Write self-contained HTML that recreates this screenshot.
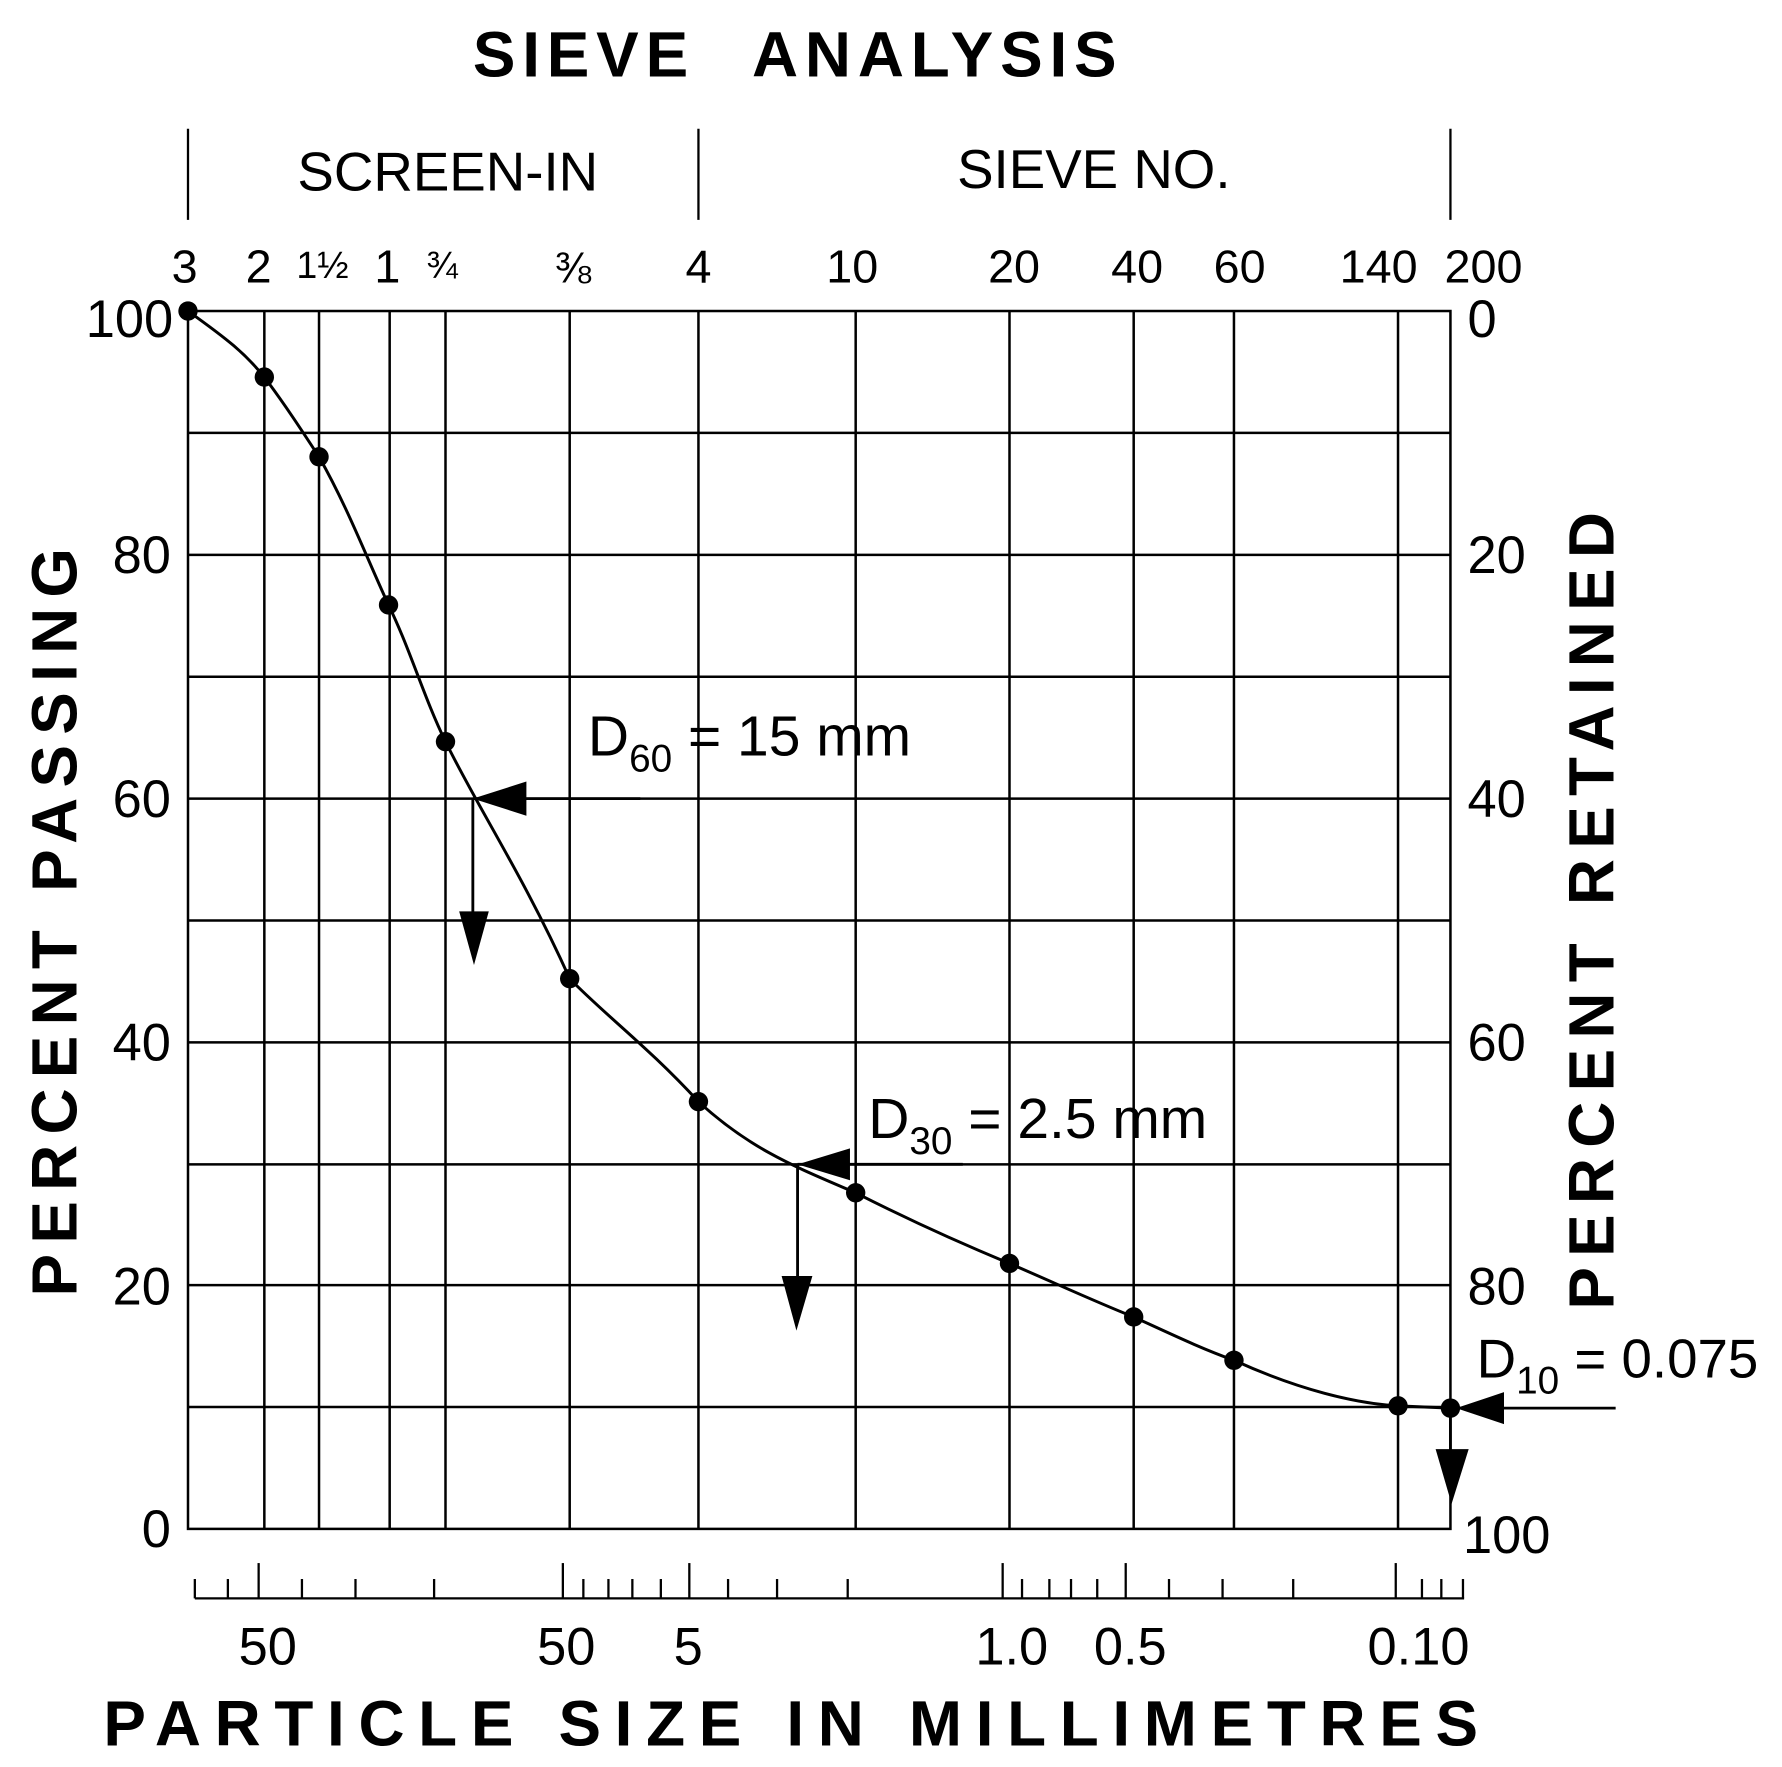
<!DOCTYPE html>
<html><head><meta charset="utf-8"><style>
html,body{margin:0;padding:0;background:#fff;}
svg{display:block;}
text{font-family:"Liberation Sans",Arial,sans-serif;fill:#000;}
</style></head><body>
<svg width="1782" height="1767" viewBox="0 0 1564 1551" preserveAspectRatio="none" xmlns="http://www.w3.org/2000/svg">
<text x="415" y="67" font-size="56" font-weight="bold" letter-spacing="6">SIEVE</text>
<text x="660" y="67" font-size="56" font-weight="bold" letter-spacing="6">ANALYSIS</text>
<g stroke="#000" stroke-width="2">
<line x1="165" y1="113" x2="165" y2="193"/><line x1="613" y1="113" x2="613" y2="193"/><line x1="1273" y1="113" x2="1273" y2="193"/>
</g>
<text x="393" y="167" font-size="48" text-anchor="middle">SCREEN-IN</text>
<text x="960" y="165" font-size="48" text-anchor="middle">SIEVE NO.</text>
<g font-size="41" text-anchor="middle">
<text x="162" y="248">3</text><text x="227" y="248">2</text><text x="283" y="244" font-size="33">1½</text><text x="340" y="248">1</text><text x="388" y="244" font-size="33">¾</text><text x="503" y="248" font-size="38">⅜</text><text x="613" y="248">4</text><text x="748" y="248">10</text><text x="890" y="248">20</text><text x="998" y="248">40</text><text x="1088" y="248">60</text><text x="1210" y="248">140</text><text x="1302" y="248">200</text>
</g>
<g stroke="#000" stroke-width="2.2" fill="none">
<rect x="165" y="273" width="1108" height="1069"/>
<line x1="165" y1="380" x2="1273" y2="380"/><line x1="165" y1="487" x2="1273" y2="487"/><line x1="165" y1="594" x2="1273" y2="594"/><line x1="165" y1="701" x2="1273" y2="701"/><line x1="165" y1="808" x2="1273" y2="808"/><line x1="165" y1="915" x2="1273" y2="915"/><line x1="165" y1="1022" x2="1273" y2="1022"/><line x1="165" y1="1128" x2="1273" y2="1128"/><line x1="165" y1="1235" x2="1273" y2="1235"/>
<line x1="232" y1="273" x2="232" y2="1342"/><line x1="280" y1="273" x2="280" y2="1342"/><line x1="342" y1="273" x2="342" y2="1342"/><line x1="391" y1="273" x2="391" y2="1342"/><line x1="500" y1="273" x2="500" y2="1342"/><line x1="613" y1="273" x2="613" y2="1342"/><line x1="751" y1="273" x2="751" y2="1342"/><line x1="886" y1="273" x2="886" y2="1342"/><line x1="995" y1="273" x2="995" y2="1342"/><line x1="1083" y1="273" x2="1083" y2="1342"/><line x1="1227" y1="273" x2="1227" y2="1342"/>
<path d="M165,273 C200,298 215,310 232,331 C250,355 265,378 280,401 C305,445 322,490 341,531 C360,570 372,612 391,651 C420,710 460,770 500,859 C530,890 570,920 613,967 C660,1010 700,1025 751,1047 C800,1072 840,1090 886,1109 C930,1128 960,1142 995,1156 C1030,1172 1055,1184 1083,1194 C1140,1220 1190,1232 1227,1234 L1273,1236" stroke-width="2.6"/>
</g>
<g fill="#000">
<circle cx="165" cy="273" r="8.5"/><circle cx="232" cy="331" r="8.5"/><circle cx="280" cy="401" r="8.5"/><circle cx="341" cy="531" r="8.5"/><circle cx="391" cy="651" r="8.5"/><circle cx="500" cy="859" r="8.5"/><circle cx="613" cy="967" r="8.5"/><circle cx="751" cy="1047" r="8.5"/><circle cx="886" cy="1109" r="8.5"/><circle cx="995" cy="1156" r="8.5"/><circle cx="1083" cy="1194" r="8.5"/><circle cx="1227" cy="1234" r="8.5"/><circle cx="1273" cy="1236" r="8.5"/>
</g>
<g stroke="#000" stroke-width="2.5">
<line x1="415" y1="701" x2="562" y2="701"/><line x1="415" y1="701" x2="415" y2="820"/>
<line x1="700" y1="1022" x2="845" y2="1022"/><line x1="700" y1="1022" x2="700" y2="1140"/>
<line x1="1278" y1="1236" x2="1418" y2="1236"/><line x1="1273" y1="1236" x2="1273" y2="1300"/>
</g>
<g fill="#000">
<polygon points="415,701 462,686 462,716"/><polygon points="403,800 429,800 416,847"/>
<polygon points="700,1022 746,1008 746,1036"/><polygon points="686,1120 713,1120 699,1168"/>
<polygon points="1278,1236 1320,1222 1320,1250"/><polygon points="1260,1272 1289,1272 1274,1320"/>
</g>
<text x="516" y="663" font-size="50">D<tspan font-size="34" dy="14">60</tspan><tspan dy="-14"> = 15 mm</tspan></text>
<text x="762" y="999" font-size="50">D<tspan font-size="34" dy="14">30</tspan><tspan dy="-14"> = 2.5 mm</tspan></text>
<text x="1296" y="1209" font-size="48">D<tspan font-size="34" dy="14">10</tspan><tspan dy="-14"> = 0.075</tspan></text>
<g font-size="46" text-anchor="end">
<text x="152" y="296">100</text><text x="150" y="503">80</text><text x="150" y="717">60</text><text x="150" y="931">40</text><text x="150" y="1145">20</text><text x="150" y="1358">0</text>
</g>
<g font-size="46">
<text x="1288" y="296">0</text><text x="1288" y="503">20</text><text x="1288" y="717">40</text><text x="1288" y="931">60</text><text x="1288" y="1145">80</text><text x="1284" y="1363">100</text>
</g>
<text transform="translate(67,805) rotate(-90)" font-size="56" font-weight="bold" text-anchor="middle" letter-spacing="9">PERCENT PASSING</text>
<text transform="translate(1416,795) rotate(-90)" font-size="56" font-weight="bold" text-anchor="middle" letter-spacing="9">PERCENT RETAINED</text>
<g stroke="#000" stroke-width="2">
<line x1="171" y1="1403" x2="1285" y2="1403"/>
<line x1="171" y1="1386" x2="171" y2="1403"/><line x1="200" y1="1386" x2="200" y2="1403"/><line x1="227" y1="1372" x2="227" y2="1403"/><line x1="265" y1="1386" x2="265" y2="1403"/><line x1="312" y1="1386" x2="312" y2="1403"/><line x1="381" y1="1386" x2="381" y2="1403"/>
<line x1="494" y1="1372" x2="494" y2="1403"/><line x1="512" y1="1386" x2="512" y2="1403"/><line x1="534" y1="1386" x2="534" y2="1403"/><line x1="555" y1="1386" x2="555" y2="1403"/><line x1="580" y1="1386" x2="580" y2="1403"/><line x1="605" y1="1372" x2="605" y2="1403"/><line x1="639" y1="1386" x2="639" y2="1403"/><line x1="682" y1="1386" x2="682" y2="1403"/><line x1="744" y1="1386" x2="744" y2="1403"/>
<line x1="880" y1="1372" x2="880" y2="1403"/><line x1="897" y1="1386" x2="897" y2="1403"/><line x1="921" y1="1386" x2="921" y2="1403"/><line x1="940" y1="1386" x2="940" y2="1403"/><line x1="963" y1="1386" x2="963" y2="1403"/><line x1="988" y1="1372" x2="988" y2="1403"/><line x1="1026" y1="1386" x2="1026" y2="1403"/><line x1="1073" y1="1386" x2="1073" y2="1403"/><line x1="1135" y1="1386" x2="1135" y2="1403"/>
<line x1="1225" y1="1372" x2="1225" y2="1403"/><line x1="1248" y1="1386" x2="1248" y2="1403"/><line x1="1265" y1="1386" x2="1265" y2="1403"/><line x1="1284" y1="1386" x2="1284" y2="1403"/>
</g>
<g font-size="46" text-anchor="middle">
<text x="235" y="1461">50</text><text x="497" y="1461">50</text><text x="604" y="1461">5</text><text x="888" y="1461">1.0</text><text x="992" y="1461">0.5</text><text x="1245" y="1461">0.10</text>
</g>
<text x="700" y="1532" font-size="56" font-weight="bold" text-anchor="middle" letter-spacing="12">PARTICLE SIZE IN MILLIMETRES</text>
</svg>
</body></html>
